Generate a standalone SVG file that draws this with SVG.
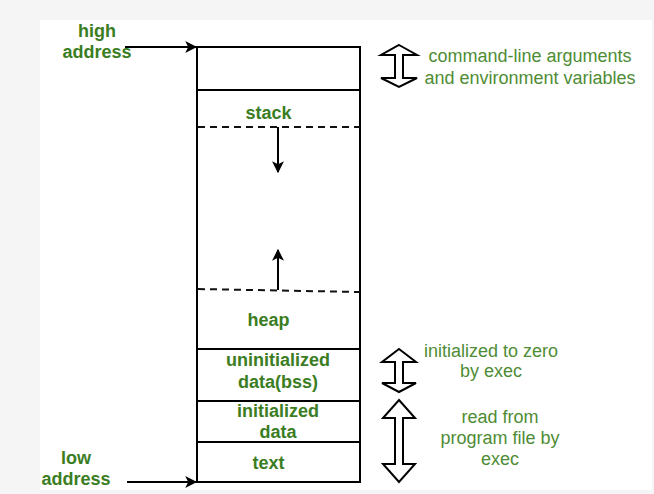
<svg xmlns="http://www.w3.org/2000/svg" width="654" height="494" viewBox="0 0 654 494">
<style>
.b{font-family:"Liberation Sans",Arial,sans-serif;font-weight:bold;font-size:18px;fill:#3b7d23;text-anchor:middle}
.r{font-family:"Liberation Sans",Arial,sans-serif;font-size:18px;fill:#4e8c35;text-anchor:middle}
.ln{stroke:#000;stroke-width:2;fill:none}
.ds{stroke:#111;stroke-width:2;fill:none;stroke-dasharray:7 5}
.da{stroke:#000;stroke-width:2;fill:#fff;stroke-linejoin:miter}
</style>
<defs>
<marker id="ah2" viewBox="0 0 10 10" refX="9" refY="5" markerWidth="12" markerHeight="12" orient="auto" markerUnits="userSpaceOnUse">
<path d="M0,0 L10,5 L0,10 L2.5,5 Z" fill="#000"/>
</marker>
</defs>
<rect width="654" height="494" fill="#f5f5f5"/>
<rect x="40" y="20" width="612" height="470" fill="#fff"/>

<g id="memory">
<rect x="197" y="47" width="163" height="435" class="ln"/>
<line x1="197" y1="90" x2="360" y2="90" class="ln"/>
<line x1="197" y1="349" x2="360" y2="349" class="ln"/>
<line x1="197" y1="401" x2="360" y2="401" class="ln"/>
<line x1="197" y1="442" x2="360" y2="442" class="ln"/>
<line x1="198" y1="127" x2="360" y2="127" class="ds"/>
<line x1="198" y1="289" x2="360" y2="292" class="ds"/>
</g>
<g id="stack"><text x="268.5" y="119" class="b">stack</text></g>
<g id="heap"><text x="268.5" y="326" class="b">heap</text></g>
<g id="bss"><text x="278" y="366" class="b">uninitialized</text><text x="278" y="388" class="b">data(bss)</text></g>
<g id="data"><text x="278" y="417" class="b">initialized</text><text x="278" y="438" class="b">data</text></g>
<g id="text"><text x="268.5" y="469" class="b">text</text></g>
<g id="high"><text x="97" y="37" class="b">high</text><text x="97" y="58" class="b">address</text></g>
<g id="low"><text x="76" y="464" class="b">low</text><text x="76" y="485" class="b">address</text></g>
<g id="args"><text x="530" y="62" class="r">command-line arguments</text><text x="530" y="84" class="r">and environment variables</text></g>
<g id="zero"><text x="491" y="357" class="r">initialized to zero</text><text x="491" y="377" class="r">by exec</text></g>
<g id="read"><text x="500" y="423" class="r">read from</text><text x="500" y="444" class="r">program file by</text><text x="500" y="465" class="r">exec</text></g>

<g id="connectors">
<line x1="125" y1="47" x2="196" y2="47" class="ln" marker-end="url(#ah2)"/>
<line x1="127" y1="482" x2="196" y2="482" class="ln" marker-end="url(#ah2)"/>
<line x1="278" y1="127" x2="278" y2="172" class="ln" marker-end="url(#ah2)"/>
<line x1="278" y1="290" x2="278" y2="250" class="ln" marker-end="url(#ah2)"/>
<polygon class="da" points="399,45 417,55 403,55 403,78 417,78 399,87 381,78 395,78 395,55 381,55"/>
<polygon class="da" points="399,349 416,362 403,362 403,383 416,383 399,392 382,383 395,383 395,362 382,362"/>
<polygon class="da" points="399,400 415,418 403,418 403,464 415,464 399,482 383,464 395,464 395,418 383,418"/>
</g>
</svg>
